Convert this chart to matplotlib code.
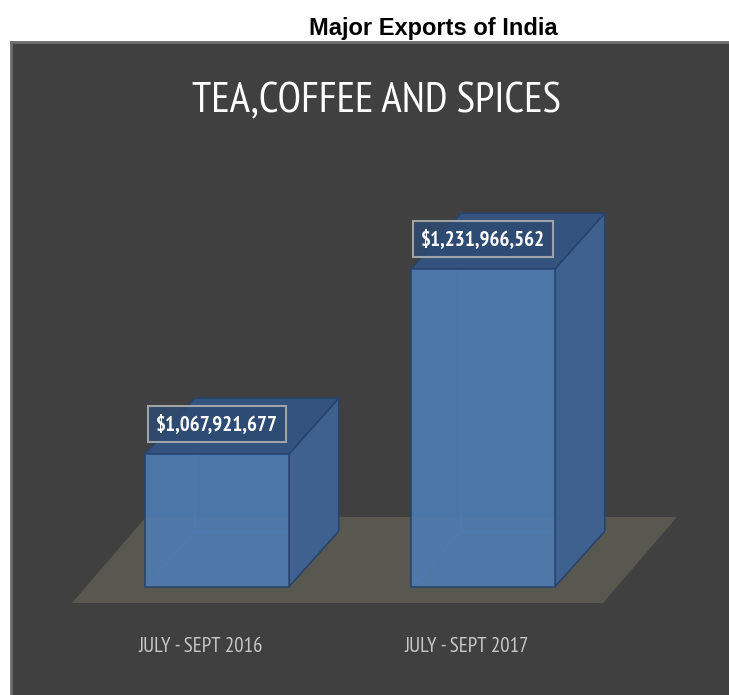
import matplotlib.pyplot as plt
from matplotlib.patches import Polygon, Rectangle

# data
categories = ['JULY - SEPT 2016', 'JULY - SEPT 2017']
exports = [1067921677, 1231966562]
value_labels = ['$1,067,921,677', '$1,231,966,562']
axis_min = 950000000

NARROW = ['PT Sans Narrow', 'DejaVu Sans']

BAR_W = 0.54
DEPTH_X = 0.188
DEPTH_Y = 49.5e6

fig = plt.figure(figsize=(7.29, 6.95), dpi=100)
ax = fig.add_axes([11 / 729, 0, 718 / 729, 653 / 695])
ax.set_facecolor('#404040')
ax.set_xlim(-0.774, 1.925)
ax.set_ylim(854.3e6, 1433.2e6)
ax.set_xticks([])
ax.set_yticks([])
for side in ['right', 'bottom']:
    ax.spines[side].set_visible(False)
for side in ['top', 'left']:
    ax.spines[side].set_color('#6c6c6c')
    ax.spines[side].set_linewidth(2)

# floor
fl_front, fl_back = axis_min - 14.2e6, axis_min + 62e6
fl_x0, fl_x1, fl_shift = -0.545, 1.451, 0.278
ax.add_patch(Polygon([(fl_x0, fl_front), (fl_x1, fl_front),
                      (fl_x1 + fl_shift, fl_back), (fl_x0 + fl_shift, fl_back)],
                     closed=True, facecolor='#595850', edgecolor='none', zorder=1))

edge = '#26446c'
for i, (val, lab) in enumerate(zip(exports, value_labels)):
    x0, x1 = i - BAR_W / 2, i + BAR_W / 2
    top = val
    # back edges seen through the box
    ax.plot([x0, x0 + DEPTH_X, x0 + DEPTH_X], [axis_min, axis_min + DEPTH_Y, top + DEPTH_Y],
            color='#4a76ab', lw=1, zorder=2)
    ax.plot([x0 + DEPTH_X, x1 + DEPTH_X], [axis_min + DEPTH_Y, axis_min + DEPTH_Y],
            color='#4a76ab', lw=1, zorder=2)
    # right side
    ax.add_patch(Polygon([(x1, axis_min), (x1 + DEPTH_X, axis_min + DEPTH_Y),
                          (x1 + DEPTH_X, top + DEPTH_Y), (x1, top)],
                         closed=True, facecolor='#3f6190', edgecolor=edge, lw=1.2, zorder=3))
    # top
    ax.add_patch(Polygon([(x0, top), (x1, top), (x1 + DEPTH_X, top + DEPTH_Y),
                          (x0 + DEPTH_X, top + DEPTH_Y)],
                         closed=True, facecolor='#34537e', edgecolor=edge, lw=1.2, zorder=3))
    # front
    ax.add_patch(Rectangle((x0, axis_min), BAR_W, top - axis_min, facecolor='#4f7bb1',
                           edgecolor=edge, lw=1.2, alpha=0.93, zorder=4))
    ax.text(i, top + 26.5e6, lab, ha='center', va='center', color='white',
            fontsize=15, fontweight='bold', family=NARROW, zorder=6,
            bbox=dict(boxstyle='square,pad=0.4', facecolor='#2e4a72', alpha=0.85,
                      edgecolor='#b4b4b4', lw=1.5))
    ax.text(i - 0.06, 0.075, categories[i], transform=ax.get_xaxis_transform(),
            ha='center', va='center', color='#c8c8c8', fontsize=15, family=NARROW)

ax.text((376 - 11) / 718, 1 - 60 / 653, 'TEA,COFFEE AND SPICES',
        transform=ax.transAxes, ha='center', va='center', color='white',
        fontsize=31, family=NARROW)

fig.text(433 / 729, 1 - 29 / 695, 'Major Exports of India', ha='center', va='center',
         fontsize=17, fontweight='bold', family=['Liberation Sans', 'DejaVu Sans'])

fig.savefig('out.png', dpi=100)
